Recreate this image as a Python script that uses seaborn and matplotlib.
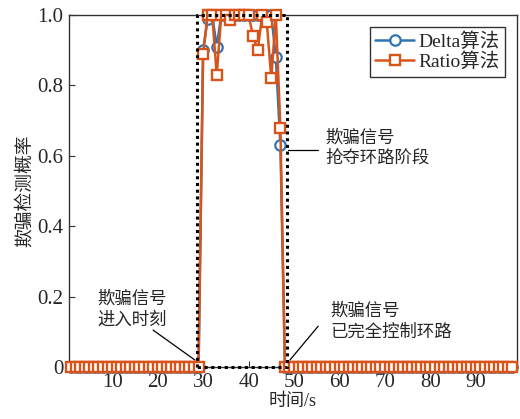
import numpy as np
import pandas as pd
import matplotlib
matplotlib.use("Agg")
import matplotlib.pyplot as plt
import seaborn as sns

# ---- data ----
time_s = list(range(1, 99))
delta_peak = {30: 0.90, 31: 0.99, 32: 1.0, 33: 0.91, 34: 1.0, 35: 1.0, 36: 1.0,
              37: 1.0, 38: 1.0, 39: 1.0, 40: 1.0, 41: 1.0, 42: 1.0, 43: 1.0,
              44: 1.0, 45: 1.0, 46: 0.88, 47: 0.63}
ratio_peak = {30: 0.89, 31: 1.0, 32: 1.0, 33: 0.83, 34: 1.0, 35: 1.0, 36: 0.985,
              37: 1.0, 38: 1.0, 39: 1.0, 40: 1.0, 41: 0.94, 42: 0.90, 43: 1.0,
              44: 0.98, 45: 0.82, 46: 1.0, 47: 0.68}
delta_vals = [delta_peak.get(t, 0.0) for t in time_s]
ratio_vals = [ratio_peak.get(t, 0.0) for t in time_s]
series_names = ["Delta算法", "Ratio算法"]
x_ticks = [10, 20, 30, 40, 50, 60, 70, 80, 90]
y_ticks = [0, 0.2, 0.4, 0.6, 0.8, 1.0]
y_tick_labels = ["0", "0.2", "0.4", "0.6", "0.8", "1.0"]
window = (28.7, 48.5)  # spoofing window rectangle

sns.set_theme(style="white")
plt.rcParams['font.family'] = ['Liberation Serif', 'Noto Sans CJK SC']
plt.rcParams['axes.unicode_minus'] = False

df = pd.DataFrame({
    "t": time_s * 2,
    "p": delta_vals + ratio_vals,
    "alg": [series_names[0]] * len(time_s) + [series_names[1]] * len(time_s),
})

fig = plt.figure(figsize=(5.2, 4.19), dpi=100)
ax = fig.add_axes([0.133, 0.124, 0.861, 0.84])

blue = "#2E75B6"
orange = "#D9541A"

sns.lineplot(data=df[df.alg == series_names[0]], x="t", y="p", ax=ax,
             color=blue, marker="o", markersize=7.5, markerfacecolor="white",
             markeredgecolor=blue, markeredgewidth=1.6, linewidth=1.8,
             label=series_names[0], clip_on=False, zorder=3)
sns.lineplot(data=df[df.alg == series_names[1]], x="t", y="p", ax=ax,
             color=orange, marker="s", markersize=6.5, markerfacecolor="white",
             markeredgecolor=orange, markeredgewidth=1.7, linewidth=1.8,
             label=series_names[1], clip_on=False, zorder=4)

# dotted window rectangle
ax.plot([window[0], window[0], window[1], window[1], window[0]],
        [0, 1.0, 1.0, 0, 0], linestyle=(0, (1, 1.2)), color="black",
        linewidth=2.2, clip_on=False, zorder=5)

ax.set_xlim(0.55, 99)
ax.set_ylim(0, 1.0)
ax.set_xticks(x_ticks)
ax.set_xticklabels([str(v) for v in x_ticks], fontsize=15)
ax.set_yticks(y_ticks)
ax.set_yticklabels(y_tick_labels, fontsize=15)
ax.tick_params(direction="in", length=4, width=0.8, color="#333333",
               bottom=True, left=True, top=False, right=False, pad=4)
for s in ax.spines.values():
    s.set_visible(True)
    s.set_color("#333333")
    s.set_linewidth(1.0)

ax.set_xlabel("时间/s", fontsize=13, labelpad=1)
ax.set_ylabel("欺骗检测概率", fontsize=13.5, labelpad=3)

leg = ax.legend(loc="upper right", fontsize=14, frameon=True, fancybox=False,
                edgecolor="#333333", framealpha=1, borderpad=0.3,
                handlelength=2.0, handletextpad=0.2, labelspacing=0.05,
                borderaxespad=0.6)
leg.get_frame().set_linewidth(1.0)

# annotations
ax.text(56.8, 0.622, "欺骗信号\n抢夺环路阶段", fontsize=12.5, ha="left",
        va="center", linespacing=1.35)
ax.plot([48.7, 55.3], [0.616, 0.616], color="black", linewidth=0.9)

ax.text(6.7, 0.162, "欺骗信号\n进入时刻", fontsize=12.5, ha="left",
        va="center", linespacing=1.35)
ax.plot([19.0, 28.2], [0.105, 0.02], color="black", linewidth=0.9)

ax.text(57.9, 0.128, "欺骗信号\n已完全控制环路", fontsize=12.5, ha="left",
        va="center", linespacing=1.35)
ax.plot([55.3, 49.1], [0.116, 0.02], color="black", linewidth=0.9)

fig.savefig("out.png", dpi=100)
